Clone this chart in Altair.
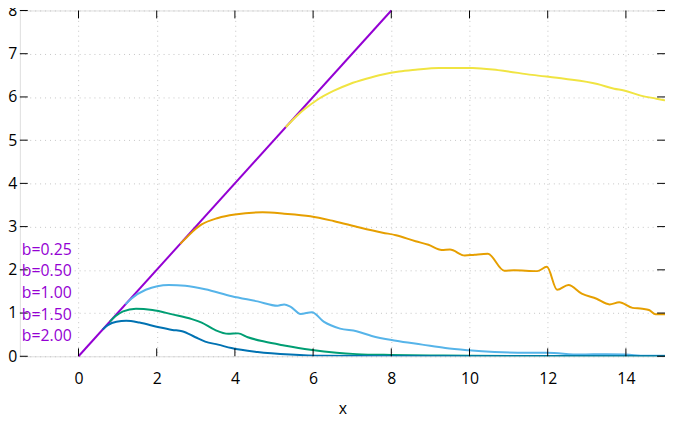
import altair as alt
import pandas as pd

# ---- data ----
labels = ["b=0.25", "b=0.50", "b=1.00", "b=1.50", "b=2.00"]
colors = ["#F0E442", "#E69F00", "#56B4E9", "#009E73", "#0072B2"]
line_color = "#9400D3"

x_b025 = [5.3, 5.55, 5.8, 6.1, 6.52, 6.94, 7.36, 7.78, 8.2, 8.62, 9.22, 10.08, 10.73, 11.6, 12.43, 13.27,
          13.7, 13.95, 14.38, 14.78, 15.0]
y_b025 = [5.3, 5.53, 5.73, 5.93, 6.14, 6.3, 6.42, 6.52, 6.59, 6.63, 6.67, 6.67, 6.62, 6.51, 6.42, 6.3,
          6.19, 6.15, 6.03, 5.96, 5.92]

x_b050 = [2.6, 2.8, 3.0, 3.15, 3.57, 4.0, 4.71, 5.26, 5.93, 6.52, 7.19, 7.78, 8.12, 8.62, 8.95, 9.29, 9.5, 9.88,
          10.13, 10.47, 10.89, 11.14, 11.73, 11.98, 12.24, 12.53, 12.87, 13.25, 13.58, 13.83, 14.17, 14.42,
          14.59, 14.76, 14.93, 15.0]
y_b050 = [2.6, 2.78, 2.95, 3.05, 3.2, 3.28, 3.33, 3.3, 3.24, 3.13, 2.98, 2.86, 2.8, 2.66, 2.58, 2.46, 2.47, 2.33,
          2.35, 2.37, 1.98, 1.99, 1.97, 2.07, 1.54, 1.65, 1.45, 1.33, 1.2, 1.25, 1.12, 1.1,
          1.07, 0.97, 0.97, 0.97]

x_b100 = [1.2, 1.35, 1.72, 2.31, 2.73, 3.24, 3.92, 4.58, 5.09, 5.26, 5.42, 5.68, 5.97, 6.27, 6.69, 7.11, 7.5,
          8.12, 8.79, 9.38, 9.97, 10.64, 11.48, 11.98, 12.83, 13.5, 14.0, 14.5, 15.0]
y_b100 = [1.2, 1.33, 1.54, 1.65, 1.63, 1.55, 1.39, 1.27, 1.17, 1.2, 1.15, 0.98, 1.02, 0.8, 0.64, 0.58, 0.47,
          0.36, 0.27, 0.19, 0.14, 0.1, 0.08, 0.08, 0.04, 0.05, 0.04, 0.01, 0.01]

x_b150 = [0.8, 0.95, 1.14, 1.47, 1.89, 2.4, 2.9, 3.15, 3.49, 3.83, 4.08, 4.33, 4.75, 5.26, 5.93, 6.6, 7.11,
          8.0, 9.0, 10.0, 12.0, 15.0]
y_b150 = [0.8, 0.93, 1.04, 1.1, 1.07, 0.97, 0.86, 0.78, 0.61, 0.52, 0.53, 0.44, 0.34, 0.25, 0.15, 0.08, 0.05,
          0.03, 0.02, 0.01, 0.005, 0.0]

x_b200 = [0.62, 0.75, 0.97, 1.22, 1.56, 2.06, 2.4, 2.65, 2.99, 3.24, 3.57, 3.91, 4.58, 5.42, 6.27, 8.0, 15.0]
y_b200 = [0.62, 0.72, 0.8, 0.82, 0.78, 0.67, 0.61, 0.58, 0.44, 0.34, 0.27, 0.19, 0.1, 0.04, 0.01, 0.0, 0.0]

diag_x = [0, 8]
diag_y = [0, 8]

x_ticks = [0, 2, 4, 6, 8, 10, 12, 14]
y_ticks = [0, 1, 2, 3, 4, 5, 6, 7, 8]
x_domain = [-1.5, 15]
y_domain = [0, 8]

# ---- build tables ----
series = [(labels[0], x_b025, y_b025), (labels[1], x_b050, y_b050), (labels[2], x_b100, y_b100),
          (labels[3], x_b150, y_b150), (labels[4], x_b200, y_b200)]
rows = []
for name, xs, ys in series:
    for i, (a, b) in enumerate(zip(xs, ys)):
        rows.append({"series": name, "x": a, "y": b, "order": i})
curves = pd.DataFrame(rows)
diag = pd.DataFrame({"x": diag_x, "y": diag_y})
xt = pd.DataFrame({"t": x_ticks})
yt = pd.DataFrame({"t": y_ticks})

W, H = 653, 350
FONT = "Open Sans"
GRID = "#c4c4c4"

xscale = alt.Scale(domain=x_domain, nice=False, zero=False)
yscale = alt.Scale(domain=y_domain, nice=False, zero=False)

xaxis = alt.Axis(values=x_ticks, title="x", ticks=False, domain=False, labelPadding=15,
                 labelFontSize=16, labelFont=FONT, labelColor="black",
                 titleFont=FONT, titleFontSize=16, titleFontWeight="normal", titleColor="black",
                 titlePadding=14, grid=True, gridDash=[1, 4], gridColor=GRID, gridWidth=1)
yaxis = alt.Axis(values=y_ticks, title=None, ticks=False, domain=False, labelPadding=3,
                 labelFontSize=16, labelFont=FONT, labelColor="black",
                 grid=True, gridDash=[1, 4], gridColor=GRID, gridWidth=1)

diag_line = alt.Chart(diag).mark_line(strokeWidth=2, color=line_color).encode(
    x=alt.X("x:Q", scale=xscale, axis=xaxis),
    y=alt.Y("y:Q", scale=yscale, axis=yaxis),
)

lines = alt.Chart(curves).mark_line(strokeWidth=2, interpolate="monotone", clip=True).encode(
    x=alt.X("x:Q", scale=xscale),
    y=alt.Y("y:Q", scale=yscale),
    color=alt.Color("series:N", scale=alt.Scale(domain=labels, range=colors),
                    legend=alt.Legend(title=None, orient="none", legendX=-14, legendY=234,
                                      labelFont=FONT, labelFontSize=16, labelColor=line_color,
                                      symbolOpacity=0, symbolSize=0, symbolStrokeWidth=0,
                                      labelOffset=0, rowPadding=6, padding=0)),
    order="order:Q",
)

tick_len = 8
xt_bottom = alt.Chart(xt).mark_rule(color="black", strokeWidth=1).encode(
    x=alt.X("t:Q", scale=xscale), y=alt.value(H), y2=alt.value(H - tick_len))
xt_top = alt.Chart(xt).mark_rule(color="black", strokeWidth=1).encode(
    x=alt.X("t:Q", scale=xscale), y=alt.value(0), y2=alt.value(tick_len))
yt_left = alt.Chart(yt).mark_rule(color="black", strokeWidth=1).encode(
    y=alt.Y("t:Q", scale=yscale), x=alt.value(0), x2=alt.value(tick_len))
yt_right = alt.Chart(yt).mark_rule(color="black", strokeWidth=1).encode(
    y=alt.Y("t:Q", scale=yscale), x=alt.value(W), x2=alt.value(W - tick_len))

chart = alt.layer(diag_line, lines, xt_bottom, xt_top, yt_left, yt_right).properties(
    width=W, height=H,
    autosize=alt.AutoSizeParams(type="none"),
    padding={"left": 12, "top": 0, "right": 0, "bottom": 64},
).configure_view(stroke="black", strokeWidth=1).configure(background="white")

chart.save("out.html", embed_options={"renderer": "svg", "actions": False})
